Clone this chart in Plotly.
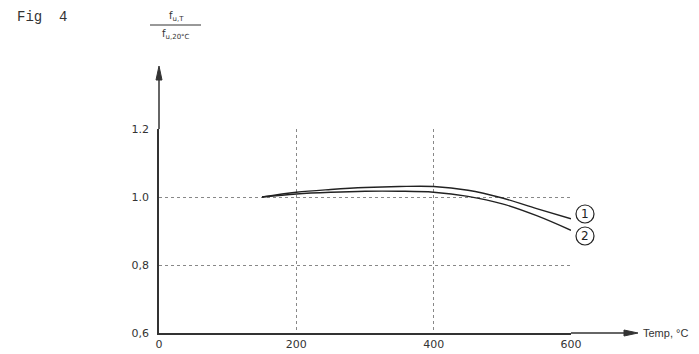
import plotly.graph_objects as go

temps = [150, 200, 250, 300, 350, 400, 450, 500, 550, 600]
curve1 = [1.000, 1.014, 1.022, 1.028, 1.031, 1.031, 1.020, 0.997, 0.966, 0.936]
curve2 = [1.000, 1.009, 1.014, 1.017, 1.017, 1.014, 1.002, 0.980, 0.945, 0.902]
xticks = [0, 200, 400, 600]
yticks = [0.6, 0.8, 1.0, 1.2]
ytick_text = ["0,6", "0,8", "1.0", "1.2"]

OFF = 8  # default page body margin
W, H = 699 - OFF, 354 - OFF
# reference pixel positions of plot area
X0, X1, Y0, Y1 = 159, 571, 129, 333
L, T = X0 - OFF, Y0 - OFF
R, B = W - (X1 - OFF), H - (Y1 - OFF)
pw, ph = W - L - R, H - T - B

def px(p):
    return (p - X0) / pw

def py(p):
    return (Y1 - p) / ph

fig = go.Figure()
for ys in (curve1, curve2):
    fig.add_trace(go.Scatter(x=temps, y=ys, mode="lines",
                             line=dict(color="#222", width=1.4, shape="spline"),
                             showlegend=False, hoverinfo="skip"))

axis_font = dict(family="DejaVu Sans, Arial", size=11, color="#333")
fig.update_layout(
    width=W, height=H, margin=dict(l=L, r=R, t=T, b=B),
    paper_bgcolor="white", plot_bgcolor="white",
    xaxis=dict(range=[0, 600], tickvals=xticks, showgrid=True, gridcolor="#888",
               griddash="dot", gridwidth=1, showline=True, linecolor="#333",
               linewidth=1.5, zeroline=False, ticks="", tickfont=axis_font,
               automargin=False),
    yaxis=dict(range=[0.6, 1.2], tickvals=yticks, ticktext=ytick_text, showgrid=True,
               gridcolor="#888", griddash="dot", gridwidth=1, showline=True,
               linecolor="#333", linewidth=1.5, zeroline=False, ticks="",
               tickfont=axis_font, ticklabelstandoff=6, automargin=False),
)

shapes = []
for cy in (214, 236):
    shapes.append(dict(type="circle", xref="paper", yref="paper",
                       x0=px(576), x1=px(594), y0=py(cy + 9), y1=py(cy - 9),
                       line=dict(color="#222", width=1.2)))
# fraction bar
shapes.append(dict(type="line", xref="paper", yref="paper",
                   x0=px(150), x1=px(201), y0=py(25), y1=py(25),
                   line=dict(color="#333", width=1)))
# x-axis extension with arrow head
shapes.append(dict(type="line", xref="paper", yref="paper",
                   x0=px(571), x1=px(626), y0=0, y1=0,
                   line=dict(color="#333", width=1.3)))
shapes.append(dict(type="path", xref="paper", yref="paper",
                   path=f"M {px(638)} {py(333)} L {px(624)} {py(330)} L {px(624)} {py(336)} Z",
                   fillcolor="#333", line=dict(color="#333", width=1)))
# y-axis extension with arrow head
shapes.append(dict(type="line", xref="paper", yref="paper",
                   x0=0, x1=0, y0=1, y1=py(76),
                   line=dict(color="#333", width=1.5)))
shapes.append(dict(type="path", xref="paper", yref="paper",
                   path=f"M {px(159)} {py(66)} L {px(156)} {py(80)} L {px(162)} {py(80)} Z",
                   fillcolor="#333", line=dict(color="#333", width=1)))
fig.update_layout(shapes=shapes)

ann = []
ann.append(dict(xref="paper", yref="paper", x=px(641), y=0,
                xanchor="left", yanchor="middle", showarrow=False,
                text="Temp, °C", font=dict(family="Liberation Sans, Arial", size=11, color="#333")))
for txt, cy in (("1", 214), ("2", 236)):
    ann.append(dict(xref="paper", yref="paper", x=px(585), y=py(cy),
                    xanchor="center", yanchor="middle", showarrow=False, text=txt,
                    font=dict(family="DejaVu Sans", size=12, color="#222")))
ann.append(dict(xref="paper", yref="paper", x=px(15), y=py(17),
                xanchor="left", yanchor="middle", showarrow=False, text="Fig  4",
                font=dict(family="Liberation Mono, DejaVu Sans Mono", size=14, color="#333")))
ann.append(dict(xref="paper", yref="paper", x=px(176), y=py(17),
                xanchor="center", yanchor="middle", showarrow=False,
                text="f<sub>u,T</sub>",
                font=dict(family="DejaVu Sans", size=10, color="#333")))
ann.append(dict(xref="paper", yref="paper", x=px(176), y=py(34),
                xanchor="center", yanchor="middle", showarrow=False,
                text="f<sub>u,20°C</sub>",
                font=dict(family="DejaVu Sans", size=10, color="#333")))
fig.update_layout(annotations=ann)

fig.write_html("out.html")
